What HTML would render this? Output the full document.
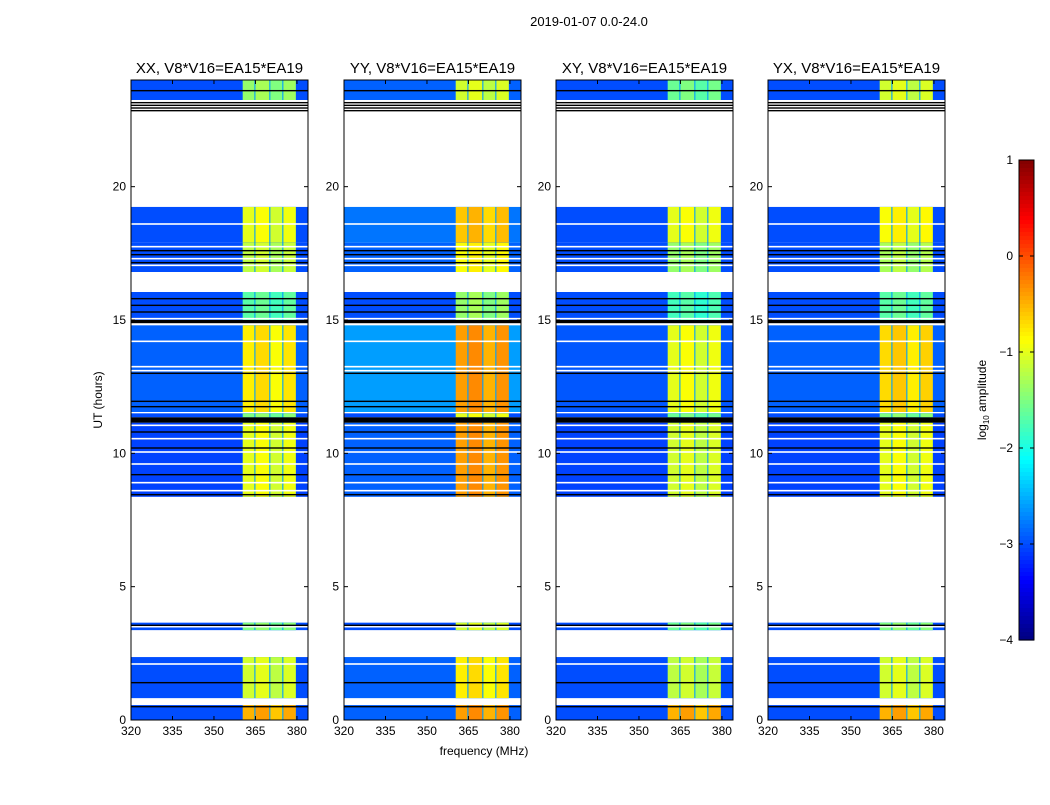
<!DOCTYPE html>
<html><head><meta charset="utf-8">
<style>
body{margin:0;background:#fff;font-family:"Liberation Sans",sans-serif;}
svg text{font-family:"Liberation Sans",sans-serif;}
</style></head>
<body>
<svg id="chart" width="1050" height="800" xmlns="http://www.w3.org/2000/svg">
<text x="589" y="26" font-size="13" text-anchor="middle">2019-01-07 0.0-24.0</text>
<text x="484" y="755" font-size="12" text-anchor="middle">frequency (MHz)</text>
<text x="102" y="400" font-size="12" text-anchor="middle" transform="rotate(-90 102 400)">UT (hours)</text>
<g id="panels"></g>
<g id="cbar"></g>
<text x="986" y="400" font-size="12" text-anchor="middle" transform="rotate(-90 986 400)">log<tspan font-size="8" dy="3">10</tspan><tspan dy="-3"> amplitude</tspan></text>
</svg>
<script>
const panelTitles=["XX, V8*V16=EA15*EA19","YY, V8*V16=EA15*EA19","XY, V8*V16=EA15*EA19","YX, V8*V16=EA15*EA19"];
const xTicks=[320,335,350,365,380];
const yTicks=[0,5,10,15,20];
const cbTicks=[1,0,-1,-2,-3,-4];
// time segments with data [startHour,endHour]
const segStart=[0,0.82,3.37,8.37,11.35,11.55,15.0,16.8,17.9,23.25];
const segEnd=[0.56,2.36,3.65,11.15,11.5,14.8,16.05,17.9,19.24,24];
// bright-band log10 amplitude per panel per segment
const brightXX=[-0.5,-1.1,-1.5,-1.0,-1.5,-0.8,-1.7,-1.2,-1.0,-1.4];
const brightYY=[-0.4,-0.8,-1.1,-0.4,-1.0,-0.4,-1.4,-0.9,-0.6,-1.1];
const brightXY=[-0.5,-1.2,-1.6,-1.1,-1.6,-1.0,-1.8,-1.4,-1.0,-1.6];
const brightYX=[-0.5,-1.1,-1.5,-1.0,-1.5,-0.7,-1.7,-1.3,-0.9,-1.1];
// background log10 amplitude per panel per segment
const bgXX=[-3.0,-3.0,-3.0,-3.05,-3.0,-2.9,-3.0,-3.0,-3.0,-3.0];
const bgYY=[-2.9,-2.9,-3.0,-2.9,-3.0,-2.6,-3.0,-2.9,-2.8,-2.9];
const bgXY=[-3.0,-3.0,-3.0,-3.05,-3.0,-2.95,-3.0,-3.0,-3.0,-3.0];
const bgYX=[-3.0,-3.0,-3.0,-3.05,-3.0,-2.9,-3.0,-3.0,-3.0,-3.0];
// sub-band channel edges (MHz)
const chanStart=[360.4,365.0,370.4,375.1];
const chanEnd=[364.6,370.0,374.7,379.6];
const chanOffset=[0,0.1,-0.1,0.05];
// flagged lines (hours)
const whiteLines=[0.62,2.1,3.5,8.6,8.9,9.6,10.05,10.55,11.05,13.1,13.25,14.2,15.05,16.3,17.05,17.3,17.75,18.6];
const blackLines=[0.5,1.4,3.55,8.45,9.2,10.2,10.8,11.75,11.95,13.0,14.95,15.3,15.55,15.8,17.15,17.45,17.6,22.85,22.95,23.05,23.15,23.6];
const thickBlack=[[11.15,11.35],[14.88,15.0]];
const bright=[brightXX,brightYY,brightXY,brightYX];
const bgs=[bgXX,bgYY,bgXY,bgYX];

const NS="http://www.w3.org/2000/svg";
function jet(v){
  const r=Math.min(Math.max(Math.min(4*v-1.5,-4*v+4.5),0),1);
  const g=Math.min(Math.max(Math.min(4*v-0.5,-4*v+3.5),0),1);
  const b=Math.min(Math.max(Math.min(4*v+0.5,-4*v+2.5),0),1);
  return `rgb(${Math.round(r*255)},${Math.round(g*255)},${Math.round(b*255)})`;
}
function col(l){return jet((l+4)/5);}
function mk(tag,attrs,parent){const e=document.createElementNS(NS,tag);for(const k in attrs)e.setAttribute(k,attrs[k]);parent.appendChild(e);return e;}
const x0s=[131,344,556,768],W=177,topY=80,botY=720;
function yS(h){return botY-h*(botY-topY)/24;}
const root=document.getElementById('panels');
x0s.forEach((x0,p)=>{
  const xS=f=>x0+(f-320)*W/64;
  const g=mk('g',{},root);
  
  
  segStart.forEach((s,i)=>{
    const y1=yS(segEnd[i]),y2=yS(s);
    const r=mk('rect',{x:x0,y:y1,width:W,height:y2-y1,fill:col(bgs[p][i])},g);
    
    
    const gap=mk('rect',{x:xS(chanStart[0]),y:y1,width:xS(chanEnd[3])-xS(chanStart[0]),height:y2-y1,fill:col(-2.6)},g);
    
    
    chanStart.forEach((c,j)=>{
      const cr=mk('rect',{x:xS(c),y:y1,width:xS(chanEnd[j])-xS(c),height:y2-y1,fill:col(bright[p][i]+chanOffset[j])},g);
      
      
    });
  });
  whiteLines.forEach(h=>{const l=mk('rect',{x:x0,y:yS(h)-0.8,width:W,height:1.6,fill:'#fff'},g);
    
    });
  blackLines.forEach(h=>{const l=mk('rect',{x:x0,y:yS(h)-0.7,width:W,height:1.4,fill:'#000'},g);
    
    });
  thickBlack.forEach(b=>{const l=mk('rect',{x:x0,y:yS(b[1]),width:W,height:yS(b[0])-yS(b[1]),fill:'#000'},g);
    
    });
  const fr=mk('rect',{x:x0,y:topY,width:W,height:botY-topY,fill:'none',stroke:'#000','stroke-width':1},g);
  
  
  const t=mk('text',{x:x0+W/2,y:73,'font-size':15,'text-anchor':'middle'},g);t.textContent=panelTitles[p];
  
  
  xTicks.forEach(v=>{const x=xS(v);
    mk('line',{x1:x,x2:x,y1:botY,y2:botY-4,stroke:'#000'},g);mk('line',{x1:x,x2:x,y1:topY,y2:topY+4,stroke:'#000'},g);
    const tx=mk('text',{x:x,y:botY+15,'font-size':12,'text-anchor':'middle'},g);tx.textContent=v;
    
    });
  yTicks.forEach(v=>{const y=yS(v);
    mk('line',{x1:x0,x2:x0+4,y1:y,y2:y,stroke:'#000'},g);mk('line',{x1:x0+W,x2:x0+W-4,y1:y,y2:y,stroke:'#000'},g);
    const ty=mk('text',{x:x0-5,y:y+4,'font-size':12,'text-anchor':'end'},g);ty.textContent=v;
    
    });
});
const cb=document.getElementById('cbar');
const cbT=160,cbB=640,cbX=1019,cbW=15;
for(let i=0;i<120;i++){const y=cbT+i*(cbB-cbT)/120;
  mk('rect',{x:cbX,y:y,width:cbW,height:(cbB-cbT)/120+0.6,fill:jet(1-(i+0.5)/120)},cb);}
mk('rect',{x:cbX,y:cbT,width:cbW,height:cbB-cbT,fill:'none',stroke:'#000'},cb);
cbTicks.forEach(v=>{const y=cbB-(v+4)/5*(cbB-cbT);
  mk('line',{x1:cbX,x2:cbX+4,y1:y,y2:y,stroke:'#000'},cb);mk('line',{x1:cbX+cbW,x2:cbX+cbW-4,y1:y,y2:y,stroke:'#000'},cb);
  const t=mk('text',{x:cbX-6,y:y+4,'font-size':12,'text-anchor':'end'},cb);t.textContent=v<0?'\u2212'+(-v):v;
  
  });
</script>
</body></html>
